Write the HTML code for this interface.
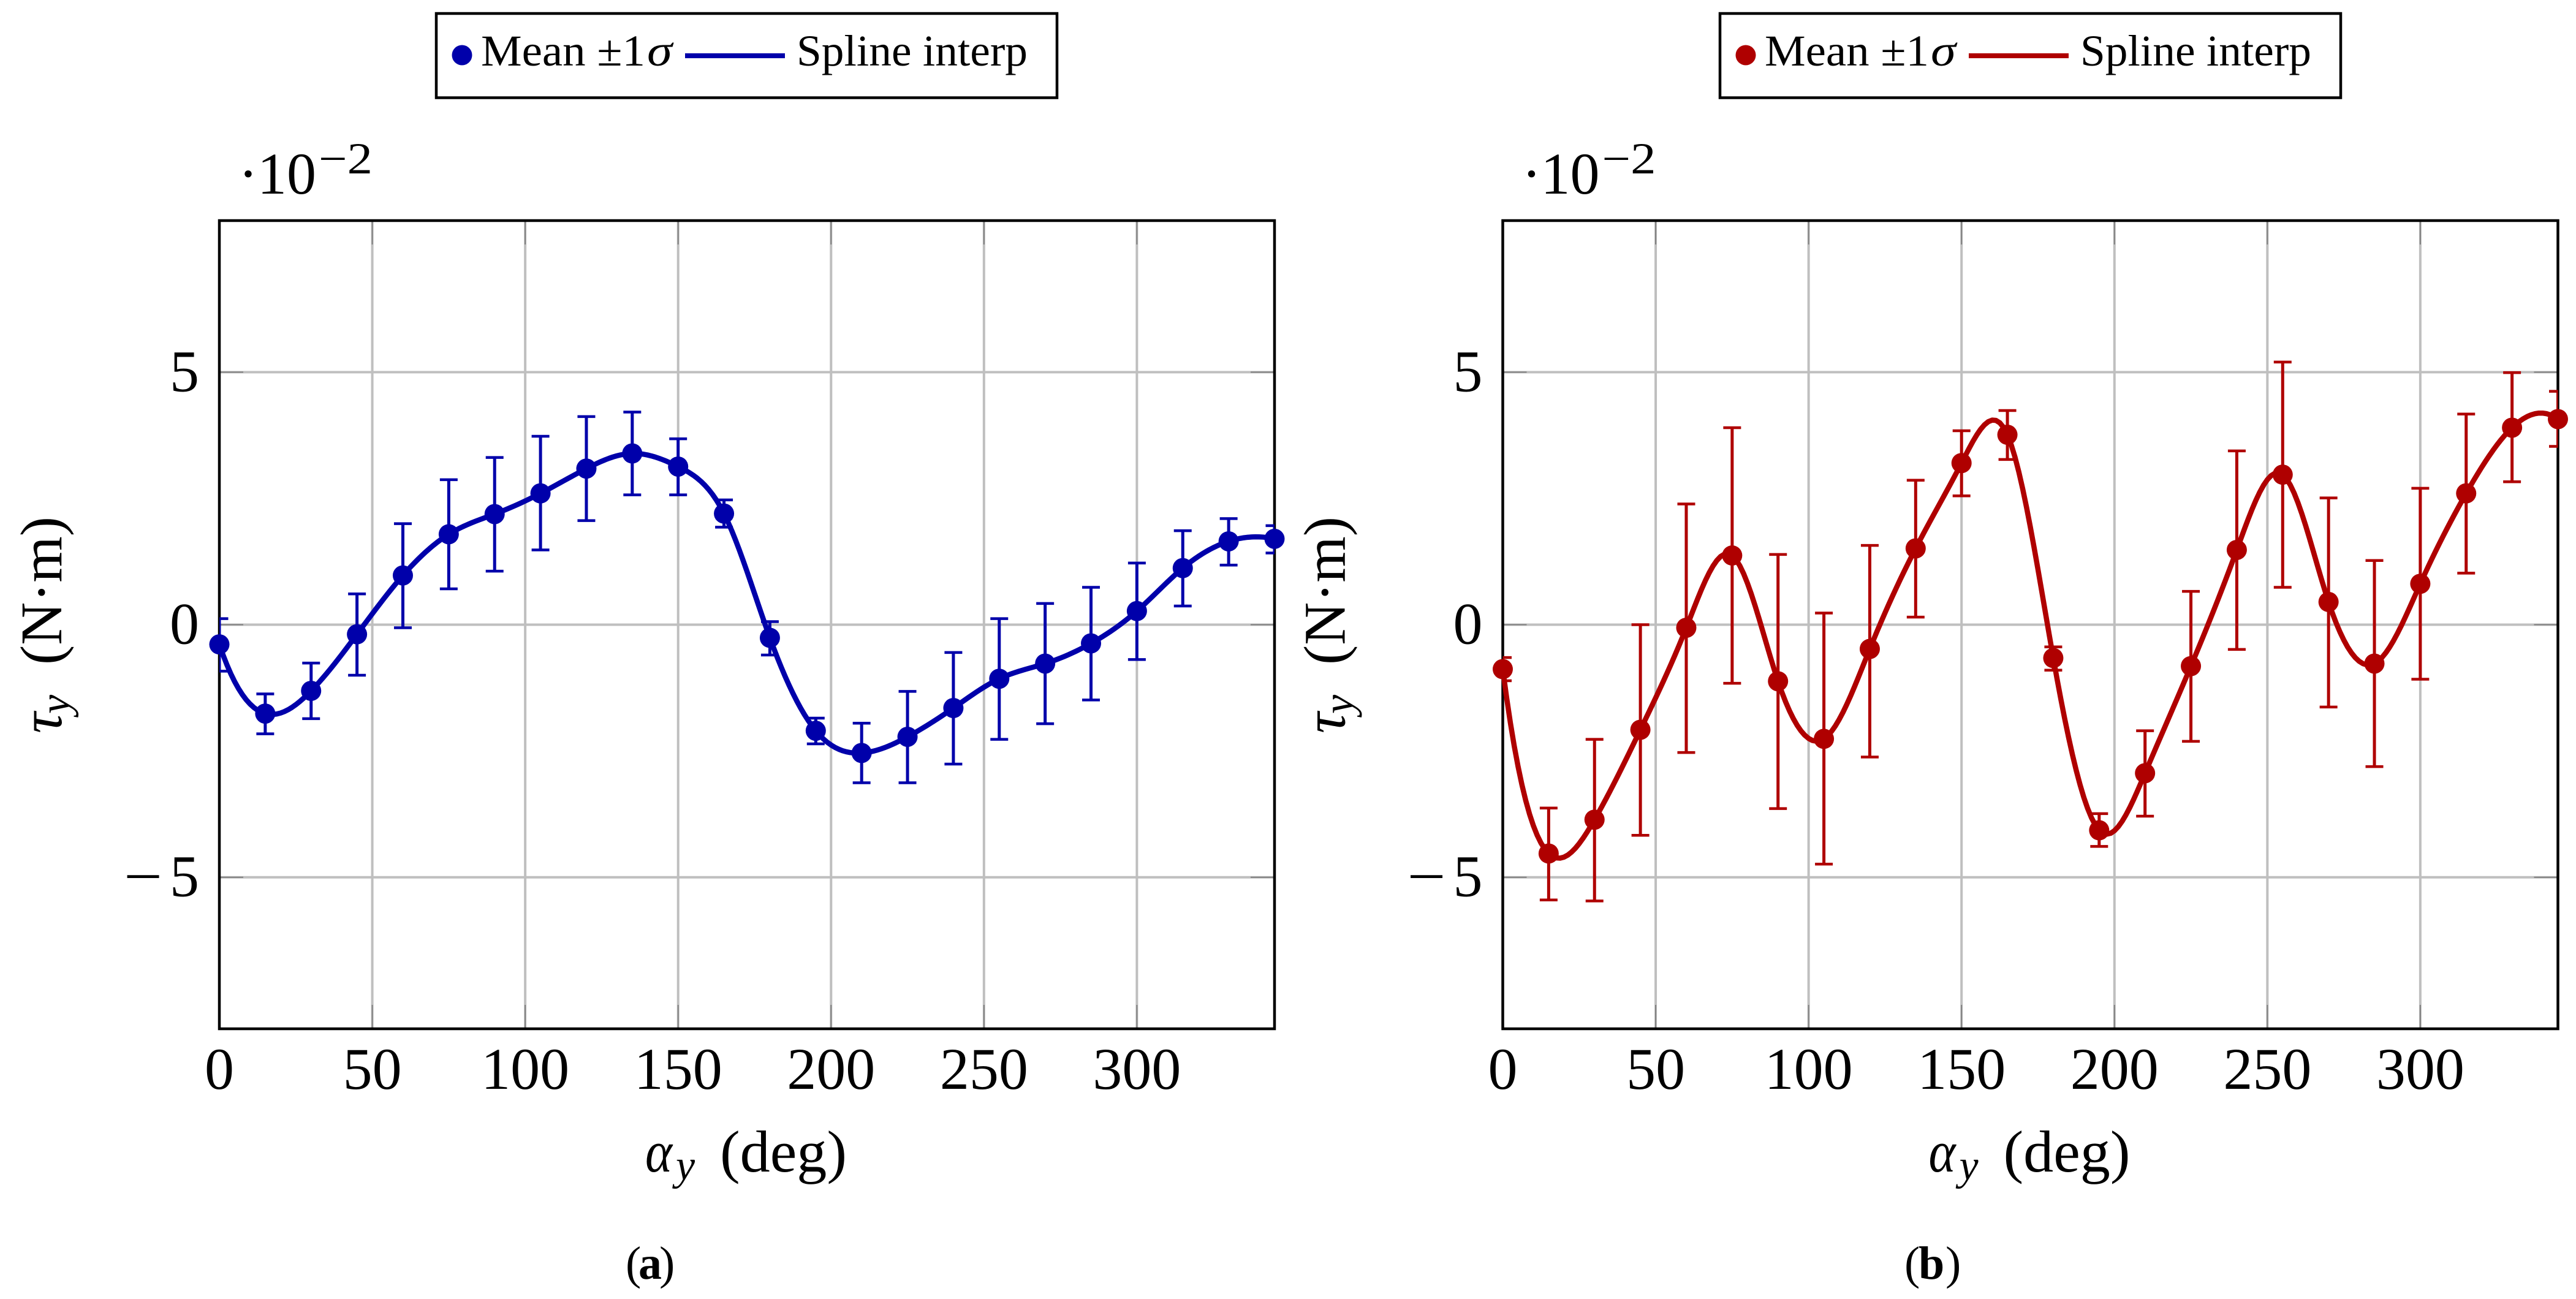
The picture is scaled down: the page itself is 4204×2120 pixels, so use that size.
<!DOCTYPE html>
<html lang="en">
<head>
<meta charset="utf-8">
<title>Torque vs angle</title>
<style>
html,body{margin:0;padding:0;background:#fff;width:4204px;height:2120px;overflow:hidden}
svg{display:block}
text{font-family:"Liberation Serif",serif;fill:#000}
.leg{font-size:72px}
.tick{font-size:96px}
.lab{font-size:96px}
.sub{font-size:70px;font-style:italic}
.cap{font-size:76px}
.sup{font-size:72px}
</style>
</head>
<body>
<svg id="fig" xmlns="http://www.w3.org/2000/svg" width="4204" height="2120" viewBox="0 0 4204 2120">
<rect x="0" y="0" width="4204" height="2120" fill="#fff"/>
<defs>
<clipPath id="clipA"><rect x="358" y="360" width="1722" height="1319"/></clipPath>
<clipPath id="clipB"><rect x="2452.5" y="360" width="1722" height="1319"/></clipPath>
</defs>

<g id="panelA">
  <g>
    <rect x="712" y="22" width="1013" height="137.5" fill="#fff" stroke="#000" stroke-width="4.5"/>
    <circle cx="754" cy="90" r="16.5" fill="#0000aa"/>
    <text class="leg" x="785" y="107" textLength="268" lengthAdjust="spacingAndGlyphs">Mean ±1</text>
    <text class="leg" x="1056" y="107" font-style="italic" textLength="41" lengthAdjust="spacingAndGlyphs">σ</text>
    <line x1="1118" y1="91" x2="1281" y2="91" stroke="#0000aa" stroke-width="8"/>
    <text class="leg" x="1300" y="107" textLength="377" lengthAdjust="spacingAndGlyphs">Spline interp</text>
  </g>
  <g>
    <text class="tick" x="389" y="316">·</text>
    <text class="tick" x="420" y="316">10</text>
    <text class="sup" x="520" y="283" textLength="88" lengthAdjust="spacingAndGlyphs">−2</text>
  </g>
  <g>
    <text class="lab" font-style="italic" transform="translate(100,1197) rotate(-90)">τ</text>
    <text class="sub" transform="translate(113,1165) rotate(-90)">y</text>
    <text class="lab" transform="translate(100,1085) rotate(-90)" textLength="242" lengthAdjust="spacingAndGlyphs">(N·m)</text>
  </g>
  <g>
    <text class="lab" x="1053" y="1912" font-style="italic" textLength="44" lengthAdjust="spacingAndGlyphs">α</text>
    <text class="sub" x="1103" y="1925">y</text>
    <text class="lab" x="1175" y="1912" textLength="207" lengthAdjust="spacingAndGlyphs">(deg)</text>
  </g>
  <g>
    <text class="cap" x="1021" y="2087">(</text>
    <text class="cap" x="1042" y="2087" font-weight="bold">a</text>
    <text class="cap" x="1076" y="2087">)</text>
  </g>
</g>

<g id="panelB">
  <g>
    <rect x="2807" y="22" width="1013" height="137.5" fill="#fff" stroke="#000" stroke-width="4.5"/>
    <circle cx="2849" cy="90" r="16.5" fill="#af0000"/>
    <text class="leg" x="2880" y="107" textLength="268" lengthAdjust="spacingAndGlyphs">Mean ±1</text>
    <text class="leg" x="3151" y="107" font-style="italic" textLength="41" lengthAdjust="spacingAndGlyphs">σ</text>
    <line x1="3213" y1="91" x2="3376" y2="91" stroke="#af0000" stroke-width="8"/>
    <text class="leg" x="3395" y="107" textLength="377" lengthAdjust="spacingAndGlyphs">Spline interp</text>
  </g>
  <g>
    <text class="tick" x="2483.5" y="316">·</text>
    <text class="tick" x="2514.5" y="316">10</text>
    <text class="sup" x="2614.5" y="283" textLength="88" lengthAdjust="spacingAndGlyphs">−2</text>
  </g>
  <g>
    <text class="lab" font-style="italic" transform="translate(2194.5,1197) rotate(-90)">τ</text>
    <text class="sub" transform="translate(2207.5,1165) rotate(-90)">y</text>
    <text class="lab" transform="translate(2194.5,1085) rotate(-90)" textLength="242" lengthAdjust="spacingAndGlyphs">(N·m)</text>
  </g>
  <g>
    <text class="lab" x="3147.5" y="1912" font-style="italic" textLength="44" lengthAdjust="spacingAndGlyphs">α</text>
    <text class="sub" x="3197.5" y="1925">y</text>
    <text class="lab" x="3269.5" y="1912" textLength="207" lengthAdjust="spacingAndGlyphs">(deg)</text>
  </g>
  <g>
    <text class="cap" x="3108" y="2087">(</text>
    <text class="cap" x="3131" y="2087" font-weight="bold">b</text>
    <text class="cap" x="3175" y="2087">)</text>
  </g>
</g>
</svg>

<script>
const angles = [0,15,30,45,60,75,90,105,120,135,150,165,180,195,210,225,240,255,270,285,300,315,330,345];

const meanA  = [-0.39,-1.76,-1.31,-0.19,0.975,1.79,2.19,2.60,3.09,3.39,3.13,2.20,-0.26,-2.10,-2.54,-2.22,-1.65,-1.07,-0.77,-0.37,0.27,1.12,1.65,1.70];
const upperA = [0.12,-1.37,-0.76,0.61,2.00,2.87,3.31,3.73,4.12,4.21,3.68,2.47,0.06,-1.85,-1.95,-1.32,-0.55,0.12,0.42,0.74,1.22,1.86,2.10,1.96];
const lowerA = [-0.92,-2.16,-1.86,-1.00,-0.06,0.71,1.06,1.48,2.06,2.57,2.57,1.93,-0.60,-2.36,-3.13,-3.13,-2.76,-2.27,-1.96,-1.49,-0.69,0.37,1.18,1.42];

const meanB  = [-0.88,-4.53,-3.86,-2.08,-0.06,1.37,-1.12,-2.26,-0.48,1.51,3.20,3.76,-0.66,-4.07,-2.94,-0.82,1.48,2.97,0.45,-0.77,0.81,2.60,3.90,4.07];
const upperB = [-0.65,-3.63,-2.27,0.00,2.39,3.90,1.39,0.23,1.57,2.86,3.84,4.24,-0.44,-3.74,-2.10,0.66,3.44,5.20,2.51,1.27,2.70,4.17,4.99,4.62];
const lowerB = [-1.11,-5.45,-5.47,-4.17,-2.53,-1.16,-3.64,-4.74,-2.62,0.15,2.55,3.27,-0.90,-4.39,-3.79,-2.31,-0.49,0.74,-1.63,-2.81,-1.08,1.02,2.83,3.53];

const xTicks = [0,50,100,150,200,250,300];
const xTickLabels = ["0","50","100","150","200","250","300"];
const yTicks = [-5,0,5];
const yTickLabels = ["\u22125","0","5"];

const X_MAX = 345;
const Y_MAX = 8;

const NS = "http://www.w3.org/2000/svg";

function add(parent, tag, attrs, txt) {
  const el = document.createElementNS(NS, tag);
  for (const k in attrs) el.setAttribute(k, attrs[k]);
  if (txt !== undefined) el.textContent = txt;
  parent.appendChild(el);
  return el;
}

/* not-a-knot cubic spline: returns second derivatives at the knots */
function splineCoefs(xs, ys) {
  const n = xs.length;
  const A = [];
  for (let i = 0; i < n; i++) A.push(new Array(n + 1).fill(0));
  const h = [];
  for (let i = 0; i < n - 1; i++) h.push(xs[i+1] - xs[i]);
  A[0][0] = h[1]; A[0][1] = -(h[0] + h[1]); A[0][2] = h[0];
  for (let i = 1; i < n - 1; i++) {
    A[i][i-1] = h[i-1];
    A[i][i] = 2 * (h[i-1] + h[i]);
    A[i][i+1] = h[i];
    A[i][n] = 6 * ((ys[i+1]-ys[i])/h[i] - (ys[i]-ys[i-1])/h[i-1]);
  }
  A[n-1][n-3] = h[n-2]; A[n-1][n-2] = -(h[n-3] + h[n-2]); A[n-1][n-1] = h[n-3];
  for (let c = 0; c < n; c++) {
    let p = c;
    for (let r = c + 1; r < n; r++) if (Math.abs(A[r][c]) > Math.abs(A[p][c])) p = r;
    const tmp = A[c]; A[c] = A[p]; A[p] = tmp;
    for (let r = c + 1; r < n; r++) {
      const f = A[r][c] / A[c][c];
      if (f === 0) continue;
      for (let k = c; k <= n; k++) A[r][k] -= f * A[c][k];
    }
  }
  const m = new Array(n).fill(0);
  for (let r = n - 1; r >= 0; r--) {
    let s = A[r][n];
    for (let k = r + 1; k < n; k++) s -= A[r][k] * m[k];
    m[r] = s / A[r][r];
  }
  return m;
}

function drawPanel(cfg) {
  const root = document.getElementById(cfg.rootId);
  const left = cfg.left, width = 1722, top = 360, bottom = 1679;
  const sx = v => left + (v / X_MAX) * width;
  const sy = v => 1019.5 - (v / Y_MAX) * ((bottom - top) / 2);

  const gridG = add(root, "g", {});
  
  
  xTicks.forEach(t => {
    if (t === 0) return;
    const x = sx(t);
    const gl = add(gridG, "line", {x1:x, x2:x, y1:top, y2:bottom, stroke:"#bfbfbf", "stroke-width":4});
    
    
  });
  yTicks.forEach(t => {
    const y = sy(t);
    const gl = add(gridG, "line", {x1:left, x2:left+width, y1:y, y2:y, stroke:"#bfbfbf", "stroke-width":4});
    
    
  });

  const tickG = add(root, "g", {});
  
  
  xTicks.forEach(t => {
    if (t === 0) return;
    const x = sx(t);
    const a = add(tickG, "line", {x1:x, x2:x, y1:top, y2:top+39, stroke:"#808080", "stroke-width":2});
    
    
    const b = add(tickG, "line", {x1:x, x2:x, y1:bottom-39, y2:bottom, stroke:"#808080", "stroke-width":2});
    
    
  });
  yTicks.forEach(t => {
    const y = sy(t);
    const a = add(tickG, "line", {x1:left, x2:left+39, y1:y, y2:y, stroke:"#808080", "stroke-width":2});
    
    
    const b = add(tickG, "line", {x1:left+width-39, x2:left+width, y1:y, y2:y, stroke:"#808080", "stroke-width":2});
    
    
  });

  const frame = add(root, "rect", {x:left, y:top, width:width, height:bottom-top, fill:"none", stroke:"#000", "stroke-width":4.5});
  
  

  xTicks.forEach((t, i) => {
    const lbl = add(root, "text", {class:"tick", x:sx(t), y:1777, "text-anchor":"middle"}, xTickLabels[i]);
    
    
  });
  yTicks.forEach((t, i) => {
    const s = yTickLabels[i];
    const neg = s.charAt(0) === "\u2212";
    const lbl = add(root, "text", {class:"tick", x:left-33, y:sy(t)+31, "text-anchor":"end"}, neg ? s.slice(1) : s);
    
    
    if (neg) {
      const sign = add(root, "text", {class:"tick", x:left-156, y:sy(t)+31, textLength:63, lengthAdjust:"spacingAndGlyphs"}, "\u2212");
      
      
    }
  });

  const errG = add(root, "g", {"clip-path":"url(#" + cfg.clip + ")", stroke:cfg.color, fill:"none"});
  
  
  angles.forEach((a, i) => {
    const x = sx(a), yu = sy(cfg.upper[i]), yl = sy(cfg.lower[i]);
    const v = add(errG, "line", {x1:x, x2:x, y1:yu, y2:yl, "stroke-width":5});
    
    
    const c1 = add(errG, "line", {x1:x-14.5, x2:x+14.5, y1:yu, y2:yu, "stroke-width":4.5});
    
    
    const c2 = add(errG, "line", {x1:x-14.5, x2:x+14.5, y1:yl, y2:yl, "stroke-width":4.5});
    
    
  });

  const n = angles.length;
  const m = splineCoefs(angles, cfg.mean);
  let d = "";
  for (let i = 0; i < n - 1; i++) {
    const h = angles[i+1] - angles[i];
    for (let s = 0; s < 12; s++) {
      const t = s / 12, A = 1 - t, B = t;
      const val = A*cfg.mean[i] + B*cfg.mean[i+1] + ((A*A*A-A)*m[i] + (B*B*B-B)*m[i+1])*h*h/6;
      d += (d ? "L" : "M") + sx(angles[i] + t*h).toFixed(2) + " " + sy(val).toFixed(2);
    }
  }
  d += "L" + sx(angles[n-1]).toFixed(2) + " " + sy(cfg.mean[n-1]).toFixed(2);
  const curve = add(root, "path", {d:d, fill:"none", stroke:cfg.color, "stroke-width":8.5, "stroke-linejoin":"round"});
  
  

  const ptG = add(root, "g", {fill:cfg.color});
  
  
  angles.forEach((a, i) => {
    const pt = add(ptG, "circle", {cx:sx(a), cy:sy(cfg.mean[i]), r:16.5});
    
    
  });
}

drawPanel({id:"a", rootId:"panelA", left:358, clip:"clipA", color:"#0000aa", mean:meanA, upper:upperA, lower:lowerA});
drawPanel({id:"b", rootId:"panelB", left:2452.5, clip:"clipB", color:"#af0000", mean:meanB, upper:upperB, lower:lowerB});
</script>
</body>
</html>
